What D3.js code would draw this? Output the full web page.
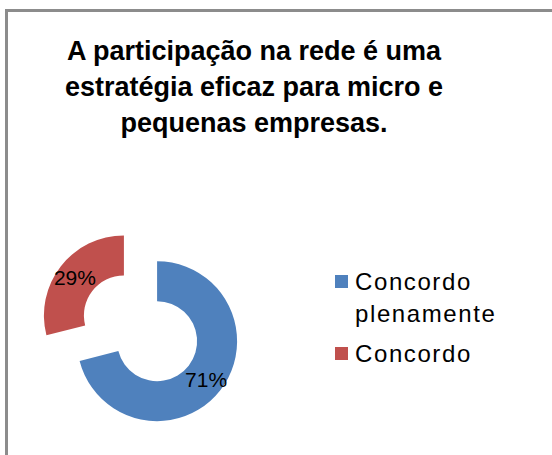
<!DOCTYPE html>
<html>
<head>
<meta charset="utf-8">
<script src="https://d3js.org/d3.v7.min.js"></script>
<style>
  body { margin: 0; background: #fff; }
  svg { display: block; }
  .title { font-family: "Liberation Sans", Arial, sans-serif; font-weight: bold; font-size: 27px; fill: #000; }
  .legend text { font-family: "Liberation Sans", Arial, sans-serif; font-size: 24px; letter-spacing: 1.6px; fill: #000; }
  .lbl { font-family: "Liberation Sans", Arial, sans-serif; font-size: 21px; fill: #000; }
</style>
</head>
<body>
<svg width="552" height="455"></svg>
<script>
  var categories = ["Concordo plenamente", "Concordo"];
  var legendLines = [["Concordo", "plenamente"], ["Concordo"]];
  var values = [71, 29];
  var colors = ["#4F81BD", "#C0504D"];
  var titleLines = ["A participação na rede é uma", "estratégia eficaz para micro e", "pequenas empresas."];

  var svg = d3.select("svg");

  // chart frame (only top and left edges show in the crop)
  svg.append("rect")
    .attr("x", 6.5).attr("y", 10.5)
    .attr("width", 600).attr("height", 500)
    .attr("fill", "none")
    .attr("stroke", "#8c8c8c")
    .attr("stroke-width", 3);

  svg.append("text")
    .attr("class", "title")
    .attr("text-anchor", "middle")
    .selectAll("tspan")
    .data(titleLines)
    .enter().append("tspan")
    .attr("x", 254)
    .attr("y", function(d, i) { return 60 + i * 36; })
    .text(function(d) { return d; });

  var cx = 140.5, cy = 328.3, outerR = 80, innerR = 40, explode = 21;

  var pie = d3.pie().sort(null).value(function(d) { return d; });
  var arc = d3.arc().innerRadius(innerR).outerRadius(outerR);
  var labelArc = d3.arc().innerRadius(62).outerRadius(62);

  var slices = svg.append("g")
    .attr("transform", "translate(" + cx + "," + cy + ")")
    .selectAll("g")
    .data(pie(values))
    .enter().append("g")
    .attr("transform", function(d) {
      var a = (d.startAngle + d.endAngle) / 2;
      return "translate(" + (Math.sin(a) * explode) + "," + (-Math.cos(a) * explode) + ")";
    });

  slices.append("path")
    .attr("d", arc)
    .attr("fill", function(d, i) { return colors[i]; });

  slices.append("text")
    .attr("class", "lbl")
    .attr("text-anchor", "middle")
    .attr("dy", "0.36em")
    .attr("transform", function(d) { return "translate(" + labelArc.centroid(d) + ")"; })
    .text(function(d) { return d.value + "%"; });

  var legendY = [282, 354];
  var legend = svg.append("g").attr("class", "legend")
    .selectAll("g")
    .data(categories)
    .enter().append("g")
    .attr("transform", function(d, i) { return "translate(335," + legendY[i] + ")"; });

  legend.append("rect")
    .attr("x", 0).attr("y", -7)
    .attr("width", 13).attr("height", 13)
    .attr("fill", function(d, i) { return colors[i]; });

  legend.append("text")
    .selectAll("tspan")
    .data(function(d, i) { return legendLines[i]; })
    .enter().append("tspan")
    .attr("x", 20)
    .attr("y", function(d, j) { return 8 + j * 32; })
    .text(function(d) { return d; });
</script>
</body>
</html>
